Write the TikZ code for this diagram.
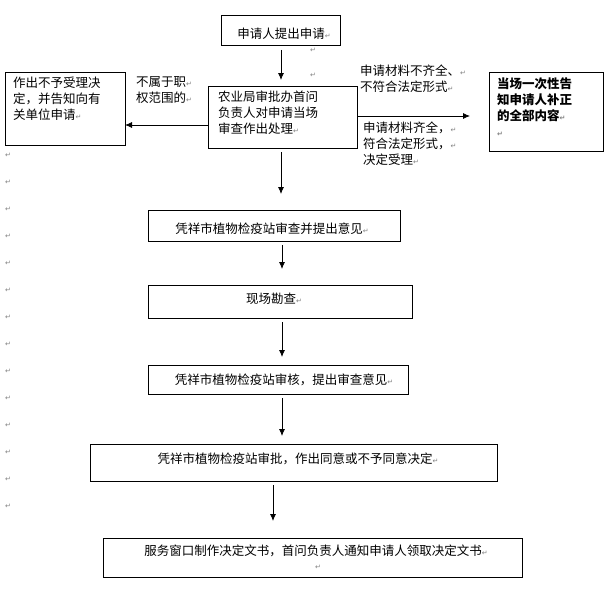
\documentclass[tikz,border=0pt]{standalone}
\usepackage{fontspec}
\setmainfont{Noto Sans CJK SC}
\newfontfamily\symfont{DejaVu Sans}
\usetikzlibrary{arrows.meta}

\tikzset{
  stepbox/.style={draw, thick, inner sep=0pt},
  flow/.style={thick, -{Latex[length=7pt,width=6pt]}},
  txt/.style={font=\fontsize{12.5}{16}\selectfont, align=left, inner sep=0pt},
  pm/.style={font=\symfont\fontsize{7}{7}\selectfont, gray, inner sep=0pt},
}
\newcommand{\pmark}{{\symfont\fontsize{7}{7}\selectfont\color{gray}↵}}

\begin{document}
\begin{tikzpicture}[x=1pt, y=-1pt]
\useasboundingbox (0,0) rectangle (610,594);

% boxes
\draw[stepbox] (221,15) rectangle (340,45);
\node[txt] (apply) at (284,34) {申请人提出申请\pmark};
\draw[stepbox] (5,72) rectangle (125,145);
\node[txt, anchor=north west] (reject) at (13,77) {作出不予受理决\\定，并告知向有\\关单位申请\pmark};
\draw[stepbox] (208,86) rectangle (357,148);
\node[txt, anchor=north west] (check) at (218,91) {农业局审批办首问\\负责人对申请当场\\审查作出处理\pmark};
\draw[stepbox] (489,72) rectangle (603,151);
\node[txt, anchor=north west, font=\bfseries\fontsize{12.5}{16}\selectfont] (notify) at (497,78) {当场一次性告\\知申请人补正\\的全部内容\pmark\\\pmark};
\draw[stepbox] (148,210) rectangle (400,241);
\node[txt] (review) at (272,229) {凭祥市植物检疫站审查并提出意见\pmark};
\draw[stepbox] (148,285) rectangle (412,318);
\node[txt] (survey) at (274,299) {现场勘查\pmark};
\draw[stepbox] (148,365) rectangle (408,394);
\node[txt] (audit) at (284,380) {凭祥市植物检疫站审核，提出审查意见\pmark};
\draw[stepbox] (90,444) rectangle (497,481);
\node[txt] (approve) at (298,459) {凭祥市植物检疫站审批，作出同意或不予同意决定\pmark};
\draw[stepbox] (103,538) rectangle (522,577);
\node[txt] (issue) at (316,551) {服务窗口制作决定文书，首问负责人通知申请人领取决定文书\pmark};
\node[pm] at (318,567) {↵};

% labels
\node[txt, anchor=north west] at (136,76) {不属于职\pmark\\权范围的\pmark};
\node[txt, anchor=north west] at (360,65) {申请材料不齐全、\pmark\\不符合法定形式\pmark};
\node[txt, anchor=north west] at (363,122) {申请材料齐全，\pmark\\符合法定形式，\pmark\\决定受理\pmark};
\node[pm] at (313,50) {↵};
\node[pm] at (313,75) {↵};

% arrows
\coordinate (a1) at (281,50);  \coordinate (a2) at (281,80);
\coordinate (b1) at (208,125); \coordinate (b2) at (125,125);
\coordinate (c1) at (357,116); \coordinate (c2) at (470,116);
\coordinate (d1) at (281,152); \coordinate (d2) at (281,194);
\coordinate (e1) at (282,245); \coordinate (e2) at (282,269);
\coordinate (f1) at (282,322); \coordinate (f2) at (282,357);
\coordinate (g1) at (282,398); \coordinate (g2) at (282,436);
\coordinate (h1) at (273,485); \coordinate (h2) at (273,521);
\foreach \s/\t in {a1/a2, b1/b2, c1/c2, d1/d2, e1/e2, f1/f2, g1/g2, h1/h2}
  \draw[flow] (\s) -- (\t);

% paragraph marks in the margin
\foreach \y in {155,182,209,236,263,290,317,344,371,398,425,452,479,506}
  \node[pm] at (8,\y) {↵};
\end{tikzpicture}
\end{document}
